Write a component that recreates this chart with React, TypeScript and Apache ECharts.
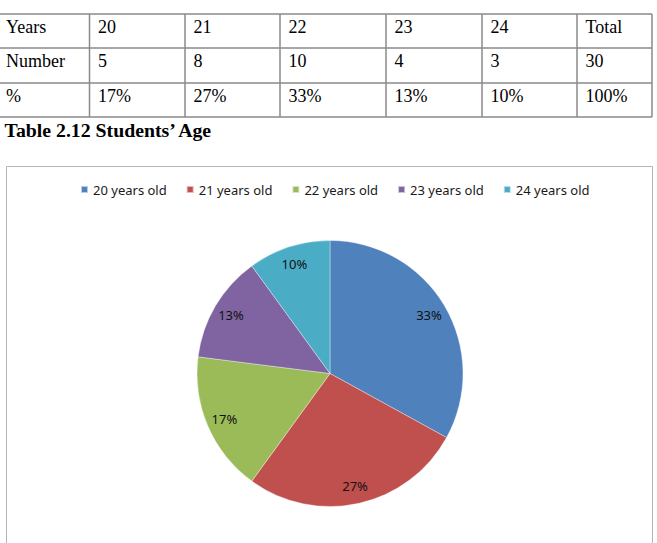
import React, { useEffect, useRef } from "react";
import * as echarts from "echarts";

// ---- data ----
const rowHeaders = ["Years", "Number", "%"];
const tableYears = ["20", "21", "22", "23", "24", "Total"];
const tableNumbers = ["5", "8", "10", "4", "3", "30"];
const tablePercents = ["17%", "27%", "33%", "13%", "10%", "100%"];
const caption = "Table 2.12 Students’ Age";
const ageNames = ["20 years old", "21 years old", "22 years old", "23 years old", "24 years old"];
const pieValues = [33, 27, 17, 13, 10];
const sliceColors = ["#4F81BD", "#C0504D", "#9BBB59", "#8064A2", "#4BACC6"];

// ---- layout (not data) ----
const colLines = [89.5, 185, 280, 386, 482, 577, 652];
const rowLines = [14, 48, 83, 117];
const rowTextY = [27, 61, 96];
const lineColor = "#8a8a8a";
const serif = "'Liberation Serif', 'Times New Roman', serif";
const sans = "'Noto Sans', 'Open Sans', sans-serif";

function buildGraphic() {
  const els: any[] = [];
  rowLines.forEach((y) => {
    els.push({
      type: "line",
      shape: { x1: 0, y1: y, x2: colLines[colLines.length - 1], y2: y },
      style: { stroke: lineColor, lineWidth: 1.5 },
      silent: true,
    });
  });
  colLines.forEach((x) => {
    els.push({
      type: "line",
      shape: { x1: x, y1: rowLines[0], x2: x, y2: rowLines[rowLines.length - 1] },
      style: { stroke: lineColor, lineWidth: 1.5 },
      silent: true,
    });
  });
  const rows = [tableYears, tableNumbers, tablePercents];
  rows.forEach((row, r) => {
    els.push({
      type: "text",
      x: 6,
      y: rowTextY[r],
      style: { text: rowHeaders[r], font: `18px ${serif}`, fill: "#000", align: "left", verticalAlign: "middle" },
      silent: true,
    });
    row.forEach((v, c) => {
      els.push({
        type: "text",
        x: colLines[c] + 8.5,
        y: rowTextY[r],
        style: { text: v, font: `18px ${serif}`, fill: "#000", align: "left", verticalAlign: "middle" },
        silent: true,
      });
    });
  });
  els.push({
    type: "text",
    x: 4.5,
    y: 130,
    style: { text: caption, font: `bold 19.8px ${serif}`, fill: "#000", align: "left", verticalAlign: "middle" },
    silent: true,
  });
  els.push({
    type: "rect",
    shape: { x: 6.5, y: 166.5, width: 646, height: 420 },
    style: { fill: "transparent", stroke: "#b5b5b5", lineWidth: 1 },
    silent: true,
  });
  return els;
}

export default function App() {
  const ref = useRef<HTMLDivElement>(null);
  useEffect(() => {
    if (!ref.current) return;
    const chart = echarts.init(ref.current, undefined, { renderer: "svg" });
    const data = ageNames.map((n, i) => ({ name: n, value: pieValues[i], itemStyle: { color: sliceColors[i] } }));
    chart.setOption({
      animation: false,
      backgroundColor: "#ffffff",
      graphic: buildGraphic(),
      legend: {
        data: ageNames,
        left: 75,
        top: 178,
        icon: "rect",
        itemWidth: 7,
        itemHeight: 7,
        itemGap: 19,
        textStyle: { fontFamily: sans, fontSize: 13, color: "#1a1a1a" },
      },
      series: [
        {
          type: "pie",
          center: [330, 373.5],
          radius: [0, 133],
          startAngle: 90,
          clockwise: true,
          data,
          label: { show: false },
          labelLine: { show: false },
          itemStyle: { borderColor: "rgba(255,255,255,0.6)", borderWidth: 0.6 },
          silent: true,
        },
        {
          type: "pie",
          center: [330, 373.5],
          radius: [91, 133],
          startAngle: 90,
          clockwise: true,
          data: ageNames.map((n, i) => ({ name: n, value: pieValues[i] })),
          itemStyle: { color: "rgba(0,0,0,0)" },
          label: {
            show: true,
            position: "inside",
            formatter: "{c}%",
            fontFamily: sans,
            fontSize: 13,
            color: "#111",
          },
          labelLine: { show: false },
          silent: true,
        },
      ],
    });
    return () => chart.dispose();
  }, []);
  return (
    <div
      ref={ref}
      style={{ position: "fixed", left: 0, top: 0, width: 657, height: 543, background: "#fff" }}
    />
  );
}
